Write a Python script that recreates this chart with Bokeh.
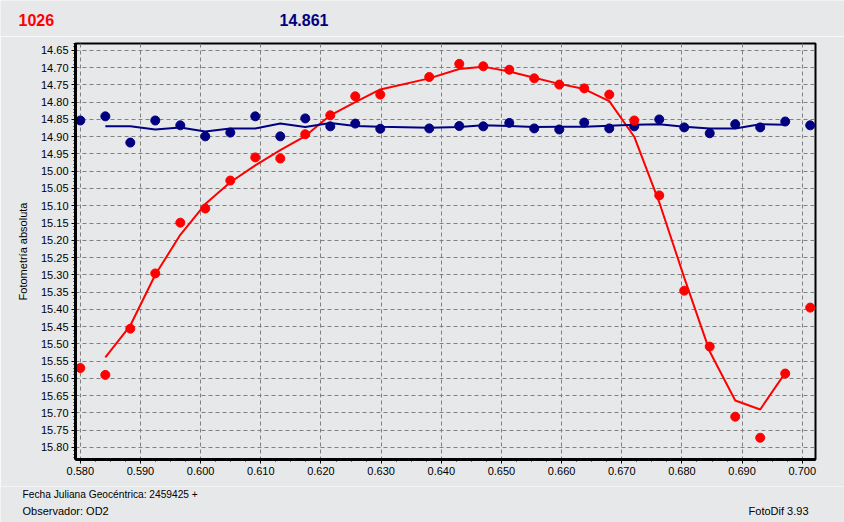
from bokeh.plotting import figure
from bokeh.layouts import column, row
from bokeh.models import Range1d, SingleIntervalTicker, PrintfTickFormatter
from bokeh.core.properties import value
from bokeh.embed import file_html
from bokeh.resources import INLINE

# ---- data ----
times = [0.58000, 0.58416, 0.58831, 0.59246, 0.59662, 0.60077, 0.60493, 0.60908,
         0.61324, 0.61739, 0.62155, 0.62570, 0.62986, 0.63800, 0.64299, 0.64698,
         0.65130, 0.65545, 0.65961, 0.66376, 0.66792, 0.67207, 0.67623, 0.68038,
         0.68462, 0.68886, 0.69301, 0.69717, 0.70132]

var_mag = [15.570, 15.590, 15.456, 15.296, 15.149, 15.108, 15.027, 14.960,
           14.963, 14.893, 14.838, 14.783, 14.778, 14.727, 14.689, 14.696,
           14.706, 14.731, 14.749, 14.760, 14.778, 14.853, 15.070, 15.346,
           15.508, 15.711, 15.772, 15.586, 15.395]

cmp_mag = [14.853, 14.841, 14.917, 14.853, 14.867, 14.899, 14.888, 14.841,
           14.899, 14.847, 14.870, 14.862, 14.877, 14.876, 14.869, 14.870,
           14.860, 14.876, 14.879, 14.859, 14.876, 14.870, 14.850, 14.873,
           14.890, 14.864, 14.873, 14.856, 14.867]

# smoothed curves as drawn in the picture (points 2 .. n-1)
var_smooth = [15.539, 15.447, 15.300, 15.184, 15.095, 15.032, 14.983, 14.939,
              14.898, 14.838, 14.800, 14.763, 14.731, 14.704, 14.697, 14.711,
              14.729, 14.747, 14.762, 14.797, 14.900, 15.090, 15.308, 15.522,
              15.664, 15.690, 15.584]

cmp_smooth = [14.870, 14.870, 14.879, 14.873, 14.885, 14.876, 14.876, 14.862,
              14.872, 14.860, 14.869, 14.871, 14.874, 14.872, 14.867, 14.869,
              14.872, 14.871, 14.871, 14.868, 14.865, 14.864, 14.871, 14.876,
              14.876, 14.864, 14.865]

smooth_times = times[1:-1]

title_var = "1026"
title_cmp = "14.861"
y_label = "Fotometría absoluta"
footer_date = "Fecha Juliana Geocéntrica: 2459425 +"
footer_obs = "Observador: OD2"
footer_app = "FotoDif 3.93"

BG = "#e7e8ea"
RED = "#ff0000"
NAVY = "#000080"
FONT = "Liberation Sans"
W = 844


def strip(height):
    f = figure(width=W, height=height, output_backend="svg", toolbar_location=None,
               x_range=Range1d(0, W), y_range=Range1d(height, 0),
               min_border=0)
    f.axis.visible = False
    f.grid.visible = False
    f.outline_line_color = None
    f.background_fill_color = BG
    f.border_fill_color = BG
    return f


# ---- header strip ----
top = strip(36)
top.text(x=[18], y=[19], text=[title_var], text_font=value(FONT),
         text_font_size="16px", text_font_style="bold", text_color=RED,
         text_baseline="middle")
top.text(x=[279], y=[19], text=[title_cmp], text_font=value(FONT),
         text_font_size="16px", text_font_style="bold", text_color=NAVY,
         text_baseline="middle")

# ---- main chart ----
p = figure(width=W, height=450, output_backend="svg", toolbar_location=None,
           x_range=Range1d(0.5792, 0.7022), y_range=Range1d(15.835, 14.63),
           min_border_left=75, min_border_right=29, min_border_top=7,
           min_border_bottom=27)
p.background_fill_color = BG
p.border_fill_color = BG
p.outline_line_color = "black"
p.outline_line_width = 2

for g in (p.xgrid, p.ygrid):
    g.grid_line_color = "#808080"
    g.grid_line_dash = "4 3"
    g.grid_line_width = 1

p.xaxis.ticker = SingleIntervalTicker(interval=0.01, num_minor_ticks=4)
p.yaxis.ticker = SingleIntervalTicker(interval=0.05, num_minor_ticks=5)
p.xgrid.ticker = p.xaxis.ticker
p.ygrid.ticker = p.yaxis.ticker
p.xaxis.formatter = PrintfTickFormatter(format="%.3f")
p.yaxis.formatter = PrintfTickFormatter(format="%.2f")

for ax in (p.xaxis, p.yaxis):
    ax.axis_line_color = "black"
    ax.axis_line_width = 3
    ax.major_tick_in = 0
    ax.major_tick_out = 4
    ax.minor_tick_in = 0
    ax.minor_tick_out = 2
    ax.major_tick_line_color = "black"
    ax.minor_tick_line_color = "black"
    ax.major_label_text_font = FONT
    ax.major_label_text_font_size = "11px"
    ax.major_label_text_color = "black"
    ax.major_label_standoff = 3

p.yaxis.axis_label = y_label
p.yaxis.axis_label_text_font = FONT
p.yaxis.axis_label_text_font_size = "11px"
p.yaxis.axis_label_text_font_style = "normal"
p.yaxis.axis_label_text_color = "black"
p.yaxis.axis_label_standoff = 9

p.line(smooth_times, var_smooth, line_color=RED, line_width=2)
p.line(smooth_times, cmp_smooth, line_color=NAVY, line_width=2)

p.scatter(times, cmp_mag, marker="circle", size=9, fill_color=NAVY, line_color=NAVY)
p.scatter(times, var_mag, marker="circle", size=9, fill_color=RED, line_color=RED)

# ---- footer strip ----
foot = strip(36)
foot.text(x=[22], y=[8], text=[footer_date], text_font=value(FONT),
          text_font_size="10.2px", text_color="black", text_baseline="middle")
foot.text(x=[22], y=[24], text=[footer_obs], text_font=value(FONT),
          text_font_size="11px", text_color="black", text_baseline="middle")
foot.text(x=[808], y=[24], text=[footer_app], text_font=value(FONT),
          text_font_size="11px", text_color="black", text_align="right",
          text_baseline="middle")

layout = column(row(top), p, row(foot), spacing=0)

open("out.html", "w").write(file_html(layout, INLINE))
